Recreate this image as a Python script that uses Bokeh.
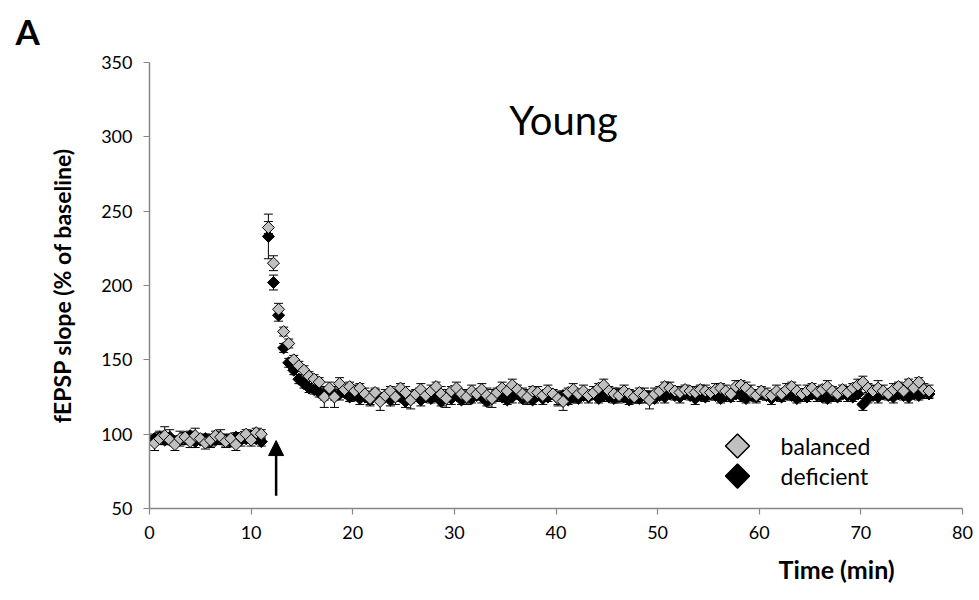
import numpy as np
from math import pi
from bokeh.plotting import figure
from bokeh.models import (Range1d, ColumnDataSource, Whisker, TeeHead, Label, Arrow, NormalHead,
                          FixedTicker, Title)
from bokeh.embed import file_html
from bokeh.resources import INLINE

FONT = "Lato"

# ---------------- data ----------------
x_ticks = [0, 10, 20, 30, 40, 50, 60, 70, 80]
y_ticks = [50, 100, 150, 200, 250, 300, 350]
series_names = ["balanced", "deficient"]

# sampling times (min)
base_t = np.arange(0.5, 11.01, 0.5)          # 22 baseline samples
post_t = 11.7 + 0.5 * np.arange(131)          # 131 post-tetanus samples

bal_base = [94, 97, 99, 96, 93, 97, 98, 95, 99, 97, 94, 96, 99, 98, 95, 97, 93, 98, 100, 96, 101, 100]
def_base = [97, 98, 96, 98, 95, 96, 97, 99, 95, 96, 97, 95, 96, 97, 96, 95, 98, 96, 97, 99, 97, 95]

bal_post = [239, 215, 184, 169, 161, 150, 146, 143, 139, 137,
            135, 125, 131, 125, 134, 130, 132, 129, 131, 127,
            124, 128, 122, 126, 129, 125, 131, 128, 123, 127,
            130, 126, 129, 132, 127, 124, 129, 131, 127, 125,
            129, 127, 130, 126, 124, 128, 131, 129, 133, 130,
            127, 125, 129, 128, 126, 129, 127, 124, 122, 128,
            130, 127, 129, 126, 128, 131, 133, 129, 127, 126,
            129, 127, 125, 128, 126, 123, 127, 129, 132, 131,
            129, 128, 130, 129, 128, 130, 129, 128, 130, 131,
            129, 127, 132, 133, 131, 128, 126, 129, 127, 126,
            129, 127, 130, 132, 129, 127, 129, 131, 128, 130,
            132, 129, 127, 130, 128, 131, 133, 135, 131, 129,
            131, 129, 127, 130, 132, 129, 134, 131, 135, 130,
            129]

def_post = [233, 202, 180, 158, 148, 143, 137, 134, 131, 130,
            128, 127, 129, 126, 127, 128, 125, 126, 124, 125,
            123, 126, 124, 125, 123, 126, 125, 122, 124, 126,
            123, 125, 124, 126, 122, 125, 124, 126, 123, 125,
            124, 126, 125, 122, 124, 126, 125, 123, 125, 127,
            124, 125, 123, 126, 124, 125, 127, 124, 126, 123,
            125, 124, 126, 125, 127, 124, 126, 125, 124, 126,
            125, 123, 125, 124, 126, 125, 124, 126, 125, 127,
            126, 125, 127, 126, 124, 126, 125, 127, 126, 124,
            126, 125, 127, 126, 124, 126, 125, 127, 126, 124,
            126, 125, 127, 126, 124, 126, 125, 127, 126, 125,
            124, 126, 125, 127, 126, 125, 127, 120, 124, 126,
            125, 127, 126, 125, 127, 126, 125, 127, 126, 128,
            127]

bal_base_err = [5, 4, 6, 3, 4, 5, 3, 4, 5, 3, 4, 4, 3, 5, 4, 3, 4, 3, 3, 4, 3, 3]
def_base_err = [3, 4, 3, 5, 3, 3, 4, 3, 4, 3, 3, 4, 3, 3, 4, 3, 3, 4, 3, 3, 3, 3]

bal_post_err = [4, 5, 4, 3, 3, 3, 3, 3, 3, 3,
                3, 7, 4, 7, 4, 3, 3, 4, 3, 4,
                5, 3, 6, 4, 3, 5, 3, 4, 6, 3,
                4, 3, 4, 3, 5, 6, 3, 4, 3, 5,
                4, 3, 4, 5, 6, 3, 4, 3, 4, 3,
                4, 5, 3, 4, 3, 4, 3, 5, 6, 3,
                4, 3, 4, 3, 4, 3, 4, 3, 4, 5,
                4, 3, 4, 3, 5, 6, 4, 3, 3, 4,
                3, 4, 3, 3, 4, 3, 4, 3, 4, 3,
                4, 3, 4, 3, 4, 5, 4, 3, 4, 3,
                4, 3, 4, 3, 4, 3, 4, 3, 4, 3,
                4, 3, 4, 3, 4, 3, 4, 4, 3, 4,
                5, 4, 3, 4, 3, 4, 3, 4, 3, 4,
                4]
def_post_err = [15, 5, 4, 3, 3, 3, 3, 3, 3, 3,
                3, 4, 3, 3, 4, 3, 3, 3, 4, 3,
                3, 4, 3, 3, 4, 3, 3, 4, 3, 3,
                4, 3, 3, 4, 3, 3, 4, 3, 3, 4,
                3, 3, 4, 3, 3, 4, 3, 3, 4, 3,
                3, 4, 3, 3, 4, 3, 3, 4, 3, 3,
                4, 3, 3, 4, 3, 3, 4, 3, 3, 4,
                3, 3, 4, 3, 3, 4, 3, 3, 4, 3,
                3, 4, 3, 3, 4, 3, 3, 4, 3, 3,
                4, 3, 3, 4, 3, 3, 4, 3, 3, 4,
                3, 3, 4, 3, 3, 4, 3, 3, 4, 3,
                3, 4, 3, 3, 4, 3, 3, 4, 3, 3,
                4, 3, 3, 4, 3, 3, 4, 3, 3, 4,
                3]

tetanus_t = 12.46

# ---------------- figure ----------------
p = figure(width=979, height=600, output_backend="svg", toolbar_location=None,
           x_range=Range1d(0, 80), y_range=Range1d(50, 350),
           min_border_left=149, min_border_right=17, min_border_top=62, min_border_bottom=92)
p.outline_line_color = None
p.grid.visible = False
p.background_fill_color = "white"
p.border_fill_color = "white"

for ax in (p.xaxis[0], p.yaxis[0]):
    ax.axis_line_color = "#868686"
    ax.axis_line_width = 1.5
    ax.major_tick_line_color = "#868686"
    ax.major_tick_line_width = 1.2
    ax.major_tick_out = 6
    ax.major_tick_in = 0
    ax.minor_tick_line_color = None
    ax.major_label_text_font = FONT
    ax.major_label_text_font_size = "18px"
    ax.major_label_text_color = "#000000"
    ax.major_label_standoff = 11
p.xaxis.ticker = FixedTicker(ticks=x_ticks)
p.yaxis.ticker = FixedTicker(ticks=y_ticks)

p.yaxis.axis_label = "fEPSP slope (% of baseline)"
p.yaxis.axis_label_text_font = FONT
p.yaxis.axis_label_text_font_size = "23px"
p.yaxis.axis_label_text_font_style = "bold"
p.yaxis.axis_label_text_color = "black"
p.yaxis.axis_label_standoff = 22


def make_source(t_a, v_a, e_a, t_b, v_b, e_b):
    t = list(t_a) + list(t_b)
    v = list(v_a) + list(v_b)
    e = list(e_a) + list(e_b)
    return ColumnDataSource(dict(t=t, v=v,
                                 lo=[a - b for a, b in zip(v, e)],
                                 hi=[a + b for a, b in zip(v, e)]))


src_def = make_source(base_t, def_base, def_base_err, post_t, def_post, def_post_err)
src_bal = make_source(base_t, bal_base, bal_base_err, post_t, bal_post, bal_post_err)

for src in (src_def, src_bal):
    w = Whisker(source=src, base="t", lower="lo", upper="hi", dimension="height",
                line_color="black", line_width=1, level="underlay",
                upper_head=TeeHead(size=9, line_color="black", line_width=1),
                lower_head=TeeHead(size=9, line_color="black", line_width=1))
    p.add_layout(w)

p.scatter("t", "v", source=src_def, marker="square", angle=pi / 4, size=8.5,
          fill_color="black", line_color="black", line_width=1)
p.scatter("t", "v", source=src_bal, marker="square", angle=pi / 4, size=8.5,
          fill_color="#c0c0c0", line_color="black", line_width=1)

# tetanus arrow
p.add_layout(Arrow(end=NormalHead(size=15, fill_color="black", line_color="black", line_width=1),
                   x_start=tetanus_t, y_start=58.5, x_end=tetanus_t, y_end=95.7,
                   line_color="black", line_width=2.5))

# manual legend (inside the frame)
leg_x = 57.86
leg_y = [92.0, 71.8]
leg_fill = ["#c0c0c0", "black"]
for name, ly, fc in zip(series_names, leg_y, leg_fill):
    p.scatter([leg_x], [ly], marker="square", angle=pi / 4, size=17, fill_color=fc,
              line_color="black", line_width=1.5)
    p.add_layout(Label(x=62.1, y=ly, text=name, text_font=FONT, text_font_size="23px",
                       text_align="left", text_baseline="middle", text_color="black"))

p.add_layout(Label(x=40.74, y=311.0, text="Young", text_font=FONT, text_font_size="40px",
                   text_align="center", text_baseline="alphabetic", text_color="black"))

# texts outside the frame
p.add_layout(Title(text="A", align="left", offset=-134, standoff=17, vertical_align="top",
                   text_font=FONT, text_font_size="35px", text_font_style="bold",
                   text_color="black"), "above")
p.add_layout(Title(text="Time (min)", align="left", offset=629, standoff=20, text_font=FONT,
                   text_font_size="25px", text_font_style="bold", text_color="black"), "below")

open("out.html", "w").write(file_html(p, INLINE))
